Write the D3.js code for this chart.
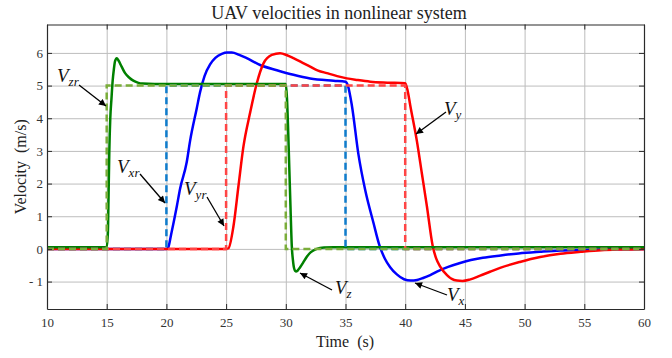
<!DOCTYPE html>
<html>
<head>
<meta charset="utf-8">
<script src="https://cdn.jsdelivr.net/npm/d3@7"></script>
<style>
  html, body { margin: 0; padding: 0; background: #fff; }
  svg { display: block; }
  svg text { font-family: "Liberation Serif", "DejaVu Serif", "Times New Roman", Times, serif !important; }
</style>
</head>
<body>
<svg id="chart" width="672" height="358"></svg>
<script>
// ---- data ----
const xTicks = [10, 15, 20, 25, 30, 35, 40, 45, 50, 55, 60];
const yTicks = [-1, 0, 1, 2, 3, 4, 5, 6];

// reference (step) signals
const vxrT = [10, 20, 20, 35, 35, 60];
const vxrV = [0, 0, 5, 5, 0, 0];
const vyrT = [10, 25, 25, 40, 40, 60];
const vyrV = [0, 0, 5, 5, 0, 0];
const vzrT = [10, 15, 15, 30, 30, 60];
const vzrV = [0, 0, 5, 5, 0, 0];

// actual responses
const vxT = [10, 20, 20.15, 20.4, 20.87, 21.15, 21.7, 21.98, 22.54, 22.82, 23.2, 23.66, 24.1, 24.64, 25.1, 25.48, 26.1, 26.73, 27.85, 29.25, 30.64, 32.04, 34.0, 35.0, 35.2, 35.53, 36.08, 36.65, 37.34, 37.85, 38.3, 38.74, 39.3, 39.9, 40.45, 41.0, 41.5, 42.1, 42.8, 43.6, 44.6, 45.5, 46.5, 48.0, 49.5, 51.3, 53.0, 54.7, 57.0, 60];
const vxV = [0, 0, 0.04, 0.45, 1.3, 1.85, 2.65, 3.3, 4.3, 4.8, 5.3, 5.65, 5.85, 5.97, 6.01, 6.01, 5.94, 5.84, 5.63, 5.47, 5.33, 5.22, 5.15, 5.12, 5.0, 4.4, 2.9, 1.8, 0.8, 0.1, -0.3, -0.56, -0.78, -0.93, -0.97, -0.95, -0.89, -0.8, -0.67, -0.55, -0.43, -0.34, -0.27, -0.2, -0.14, -0.09, -0.05, -0.03, -0.01, 0];

const vyT = [10, 25, 25.2, 25.61, 26.03, 26.45, 27.0, 27.57, 28.13, 28.83, 29.52, 30.1, 30.64, 31.3, 32.04, 32.7, 33.44, 34.3, 35.11, 36.0, 37.07, 38.5, 40.0, 40.2, 40.42, 40.98, 41.4, 41.82, 42.3, 42.6, 42.93, 43.5, 43.9, 44.33, 44.8, 45.4, 46.28, 47.1, 47.95, 49.6, 51.3, 53.0, 54.7, 56.4, 58.0, 60];
const vyV = [0, 0, 0.02, 0.68, 1.91, 3.13, 4.15, 5.07, 5.68, 5.94, 5.99, 5.93, 5.84, 5.72, 5.58, 5.46, 5.38, 5.29, 5.22, 5.17, 5.12, 5.09, 5.07, 4.85, 4.4, 3.3, 2.3, 1.3, 0.1, -0.3, -0.54, -0.8, -0.92, -0.97, -0.98, -0.94, -0.82, -0.7, -0.58, -0.4, -0.25, -0.15, -0.09, -0.04, -0.02, -0.01];

const vzT = [10, 15, 15.1, 15.15, 15.22, 15.3, 15.4, 15.5, 15.6, 15.7, 15.84, 16.0, 16.25, 16.54, 16.9, 17.23, 17.6, 18.0, 19.0, 30.0, 30.1, 30.2, 30.3, 30.4, 30.5, 30.6, 30.7, 30.84, 31.0, 31.2, 31.45, 31.76, 32.1, 32.6, 33.2, 34.0, 60];
const vzV = [0.05, 0.05, 0.5, 1.5, 3.0, 4.0, 4.6, 5.15, 5.5, 5.75, 5.84, 5.76, 5.58, 5.38, 5.24, 5.15, 5.09, 5.06, 5.05, 5.05, 4.6, 3.6, 2.4, 1.2, 0.1, -0.35, -0.6, -0.69, -0.66, -0.56, -0.42, -0.24, -0.1, 0.0, 0.04, 0.05, 0.05];

const titleText = "UAV velocities in nonlinear system";
const xLabel = "Time  (s)";
const yLabel = "Velocity  (m/s)";

// ---- layout ----
const FONT = "'Liberation Serif', 'DejaVu Serif', 'Times New Roman', Times, serif";
const svg = d3.select("#chart");
const L = 47, R = 644, T = 24.5, B = 309;
const x = d3.scaleLinear().domain([10, 60]).range([L, R]);
const y = d3.scaleLinear().domain([-1.84, 6.87]).range([B, T]);

const zip = (t, v) => t.map((d, i) => [d, v[i]]);
const line = d3.line().x(d => x(d[0])).y(d => y(d[1]));
const curve = d3.line().x(d => x(d[0])).y(d => y(d[1])).curve(d3.curveMonotoneX);

// grid
const gridC = "#bdbdbd";
svg.append("g").attr("transform", `translate(0,${B})`)
  .call(d3.axisBottom(x).tickValues(xTicks).tickSize(-(B - T)).tickFormat(""))
  .call(g => g.select(".domain").remove())
  .call(g => g.selectAll("line").attr("stroke", gridC).attr("stroke-width", 1));
svg.append("g").attr("transform", `translate(${L},0)`)
  .call(d3.axisLeft(y).tickValues(yTicks).tickSize(-(R - L)).tickFormat(""))
  .call(g => g.select(".domain").remove())
  .call(g => g.selectAll("line").attr("stroke", gridC).attr("stroke-width", 1));

// clip
svg.append("clipPath").attr("id", "clip").append("rect")
  .attr("x", L).attr("y", T).attr("width", R - L).attr("height", B - T);
const plot = svg.append("g").attr("clip-path", "url(#clip)");

// solid responses
plot.append("path").datum(zip(vxT, vxV)).attr("d", curve)
  .attr("fill", "none").attr("stroke", "#0000ff").attr("stroke-width", 2.5);
plot.append("path").datum(zip(vyT, vyV)).attr("d", curve)
  .attr("fill", "none").attr("stroke", "#ff0000").attr("stroke-width", 2.5);
plot.append("path").datum(zip(vzT, vzV)).attr("d", curve)
  .attr("fill", "none").attr("stroke", "#008000").attr("stroke-width", 2.5);

// dashed references
plot.append("path").datum(zip(vxrT, vxrV)).attr("d", line)
  .attr("fill", "none").attr("stroke", "#0f7ccc").attr("stroke-width", 2.5).attr("stroke-dasharray", "7,4");
plot.append("path").datum(zip(vyrT, vyrV)).attr("d", line)
  .attr("fill", "none").attr("stroke", "#ff4545").attr("stroke-width", 2.5).attr("stroke-dasharray", "7,4");
plot.append("path").datum(zip(vzrT, vzrV)).attr("d", line)
  .attr("fill", "none").attr("stroke", "#7aad3a").attr("stroke-width", 2.5).attr("stroke-dasharray", "7,4");

// axes (inward ticks, box)
const axC = "#2a2a2a";
const fmtY = d => d < 0 ? "- " + (-d) : String(d);
const styleAxis = g => {
  g.attr("font-family", FONT);
  g.selectAll("line").attr("stroke", axC);
  g.select(".domain").attr("stroke", axC).attr("stroke-width", 1.2);
  g.selectAll("text").attr("fill", "#333").attr("font-size", 13).attr("font-family", FONT);
};
svg.append("g").attr("transform", `translate(0,${B})`)
  .call(d3.axisBottom(x).tickValues(xTicks).tickSizeInner(-5).tickSizeOuter(0).tickPadding(9))
  .call(styleAxis);
svg.append("g").attr("transform", `translate(0,${T})`)
  .call(d3.axisTop(x).tickValues(xTicks).tickSizeInner(-5).tickSizeOuter(0).tickFormat(""))
  .call(styleAxis);
svg.append("g").attr("transform", `translate(${L},0)`)
  .call(d3.axisLeft(y).tickValues(yTicks).tickSizeInner(-5).tickSizeOuter(0).tickPadding(4).tickFormat(fmtY))
  .call(styleAxis);
svg.append("g").attr("transform", `translate(${R},0)`)
  .call(d3.axisRight(y).tickValues(yTicks).tickSizeInner(-5).tickSizeOuter(0).tickFormat(""))
  .call(styleAxis);

// titles
svg.append("text").attr("x", 339).attr("y", 19).attr("text-anchor", "middle").attr("font-family", FONT)
  .attr("font-size", 18).attr("fill", "#222").text(titleText);
svg.append("text").attr("x", 345).attr("y", 347).attr("text-anchor", "middle").attr("font-family", FONT)
  .attr("font-size", 16).attr("fill", "#222").style("white-space", "pre").text(xLabel);
svg.append("text").attr("transform", `translate(26,${(T + B) / 2}) rotate(-90)`).attr("text-anchor", "middle")
  .attr("font-family", FONT).attr("font-size", 16).attr("fill", "#222").style("white-space", "pre").text(yLabel);

// annotations
const defs = svg.append("defs");
defs.append("marker").attr("id", "ah").attr("viewBox", "0 0 10 10").attr("refX", 10).attr("refY", 5)
  .attr("markerWidth", 9).attr("markerHeight", 7).attr("markerUnits", "userSpaceOnUse").attr("orient", "auto")
  .append("path").attr("d", "M0,0 L10,5 L0,10 Z").attr("fill", "#000");

const notes = [
  { name: "V", sub: "zr", tx: 57, ty: 82, a: [[79, 85], [106, 106]] },
  { name: "V", sub: "xr", tx: 117, ty: 173, a: [[140, 174], [165, 203]] },
  { name: "V", sub: "yr", tx: 184, ty: 195, a: [[207, 197], [224, 226]] },
  { name: "V", sub: "y", tx: 444, ty: 115, a: [[446, 112], [416, 134]] },
  { name: "V", sub: "z", tx: 335, ty: 294, a: [[332, 290], [300, 273]] },
  { name: "V", sub: "x", tx: 447, ty: 301, a: [[447, 295], [415, 283]] }
];
notes.forEach(n => {
  svg.append("line").attr("x1", n.a[0][0]).attr("y1", n.a[0][1]).attr("x2", n.a[1][0]).attr("y2", n.a[1][1])
    .attr("stroke", "#000").attr("stroke-width", 1.3).attr("marker-end", "url(#ah)");
  const t = svg.append("text").attr("x", n.tx).attr("y", n.ty).attr("font-size", 19).attr("font-family", FONT)
    .attr("font-style", "italic").attr("fill", "#111");
  t.append("tspan").text(n.name);
  t.append("tspan").attr("font-size", 13).attr("dy", 4).text(n.sub);
});
</script>
</body>
</html>
